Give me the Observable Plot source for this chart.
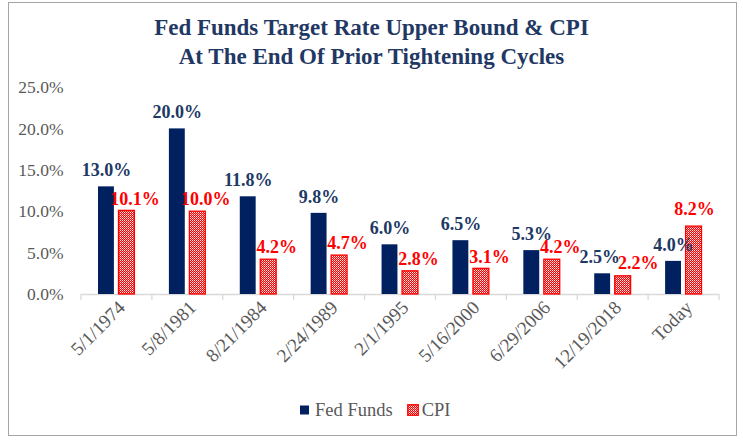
<!DOCTYPE html>
<html><head><meta charset="utf-8">
<script src="https://cdn.jsdelivr.net/npm/d3@7"></script>
<script src="https://cdn.jsdelivr.net/npm/@observablehq/plot@0.6"></script>
<style>
body{margin:0;background:#fff;}
#wrap{position:relative;width:743px;height:444px;overflow:hidden;font-family:"Liberation Serif",serif;}
#frame{position:absolute;left:8px;top:2px;width:729px;height:434px;border:1.5px solid #A6A6A6;box-sizing:border-box;}
#title{position:absolute;left:0;top:13px;width:743px;text-align:center;font-size:23px;line-height:29px;font-weight:bold;color:#1F3864;}
#chart{position:absolute;left:0;top:70px;}
#legend{position:absolute;left:300px;top:399px;height:22px;display:flex;align-items:center;font-size:18.5px;color:#595959;white-space:nowrap;}
#legend svg{display:block;}
</style></head><body>
<div id="wrap">
<div id="frame"></div>
<div id="title">Fed Funds Target Rate Upper Bound &amp; CPI<br>At The End Of Prior Tightening Cycles</div>
<div id="chart"></div>
<div id="legend"></div>
</div>
<script>
const dates = ["5/1/1974","5/8/1981","8/21/1984","2/24/1989","2/1/1995","5/16/2000","6/29/2006","12/19/2018","Today"];
const fedFunds = [13.0, 20.0, 11.8, 9.8, 6.0, 6.5, 5.3, 2.5, 4.0];
const cpi = [10.1, 10.0, 4.2, 4.7, 2.8, 3.1, 4.2, 2.2, 8.2];
const yTicks = [0, 5, 10, 15, 20, 25];
const seriesNames = ["Fed Funds", "CPI"];

const NAVY = "#002060", LABEL_NAVY = "#203864", RED = "#FF0000", GRAY = "#595959";
const rows = dates.map((d, i) => ({date: d, fed: fedFunds[i], cpi: cpi[i]}));
const fmt = v => v.toFixed(1) + "%";
const patDef = id => `<pattern id="${id}" width="2" height="2" patternUnits="userSpaceOnUse"><rect width="2" height="2" fill="${RED}"/><rect width="1" height="1" fill="#fff" opacity="0.95"/><rect x="1" y="1" width="1" height="1" fill="#fff" opacity="0.6"/></pattern>`;

const W = 743, H = 320, ML = 81, MR = 24, MT = 17, MB = 96;
const labelFont = {fontWeight: "bold", fontSize: 18};
const fedText = (data, dx) => Plot.text(data, {x: "date", y: "fed", text: d => fmt(d.fed), dx, dy: -16.5, fill: LABEL_NAVY, ...labelFont});
const cpiText = (data, dx, dy) => Plot.text(data, {x: "date", y: "cpi", text: d => fmt(d.cpi), dx, dy, fill: RED, ...labelFont});
const plot = Plot.plot({
  width: W, height: H, marginLeft: ML, marginRight: MR, marginTop: MT, marginBottom: MB,
  style: {fontFamily: '"Liberation Serif", serif', background: "transparent", overflow: "visible"},
  x: {domain: dates, padding: 0, round: false, label: null},
  y: {domain: [0, 25], label: null},
  marks: [
    Plot.axisY({ticks: yTicks, tickSize: 0, tickPadding: 18, tickFormat: fmt, fontSize: 17.5, color: GRAY, fill: GRAY}),
    Plot.axisX({tickSize: 0, tickPadding: 10, tickRotate: -45, fontSize: 19, dx: 5, color: GRAY, fill: GRAY}),
    Plot.ruleY([0], {stroke: "#D9D9D9", strokeWidth: 1.3}),
    Plot.barY(rows, {x: "date", y: "fed", fill: NAVY, insetLeft: 17, insetRight: 38}),
    Plot.barY(rows, {x: "date", y: "cpi", fill: "url(#cpiPat)", stroke: RED, strokeWidth: 1.3, insetLeft: 37.5, insetRight: 17.5}),
    fedText(rows.slice(0, 7), -10.5),
    fedText(rows.slice(7, 8), -13.5),
    fedText(rows.slice(8), -10.5),
    cpiText(rows.slice(0, 7), 18, -12),
    cpiText(rows.slice(7, 8), 25, -13),
    cpiText(rows.slice(8), 10.5, -17)
  ]
});

const svg = d3.select(plot);
svg.insert("defs", ":first-child").html(patDef("cpiPat"));
// category boundary ticks below the axis
const xs = plot.scale("x"), ys = plot.scale("y");
const bounds = dates.map(d => xs.apply(d)).concat([xs.apply(dates[dates.length - 1]) + xs.bandwidth]);
const y0 = ys.apply(0);
svg.append("g").selectAll("line").data(bounds).join("line")
  .attr("x1", d => d).attr("x2", d => d).attr("y1", y0).attr("y2", y0 + 6)
  .attr("stroke", "#D9D9D9").attr("stroke-width", 1.3);
document.getElementById("chart").appendChild(plot);

// legend
const legend = d3.select("#legend");
seriesNames.forEach((name, i) => {
  const s = legend.append("svg").attr("width", i === 0 ? 10 : 12).attr("height", i === 0 ? 10 : 12)
    .style("margin-right", i === 0 ? "5px" : "3px").style("margin-left", i === 0 ? "0px" : "14px");
  if (i === 0) {
    s.append("rect").attr("width", 9).attr("height", 9).attr("y", 0.5).attr("fill", NAVY);
  } else {
    s.append("defs").html(patDef("cpiPatL"));
    s.append("rect").attr("x", 0.75).attr("y", 0.75).attr("width", 10.5).attr("height", 10.5)
      .attr("fill", "url(#cpiPatL)").attr("stroke", RED).attr("stroke-width", 1.3);
  }
  legend.append("span").text(name);
});
</script>
</body></html>
